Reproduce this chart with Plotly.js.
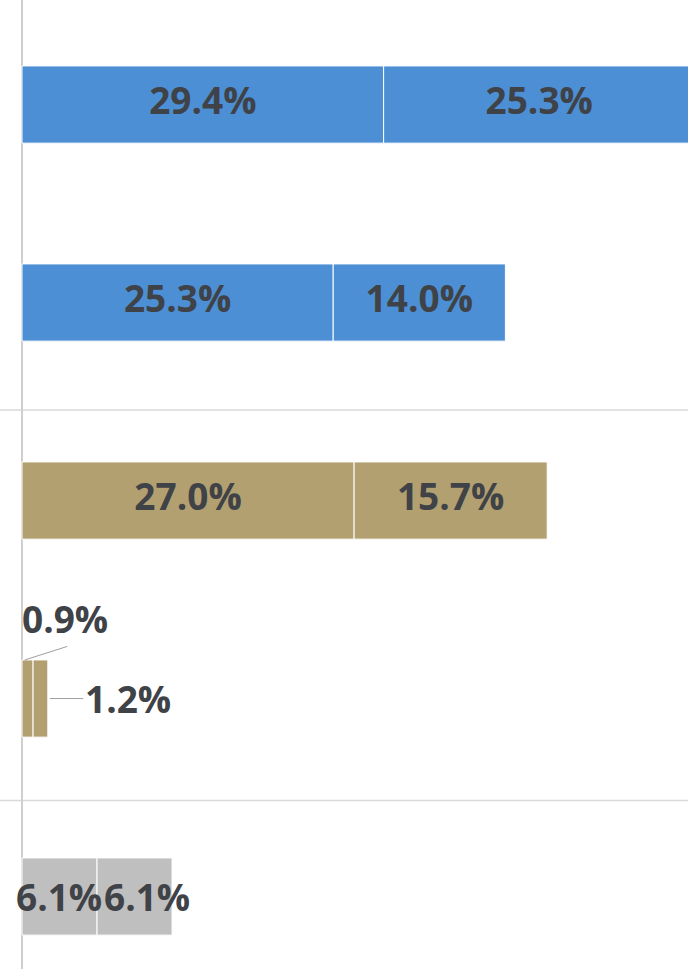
<!DOCTYPE html>
<html>
<head>
<meta charset="utf-8">
<script src="https://cdn.plot.ly/plotly-3.0.1.min.js"></script>
<style>html,body{margin:0;padding:0;background:#fff;}#chart{width:688px;height:969px;}</style>
</head>
<body>
<div id="chart"></div>
<script>
// Data
const rows = [0, 1, 2, 3, 4];
const seg1 = [29.4, 25.3, 27.0, 0.9, 6.1];
const seg2 = [25.3, 14.0, 15.7, 1.2, 6.1];
const rowColors = ['#4d8fd4', '#4d8fd4', '#b2a070', '#b2a070', '#bfbfbf'];
const fmt = v => v.toFixed(1) + '%';
const insideRows = [0, 1, 2];
const narrowRow = 4;
const calloutRow = 3;
const separators = [1.5, 3.5];

const textFont = {family: 'Open Sans, Liberation Sans, sans-serif', size: 37, color: '#3f4247', weight: 700};

const barCommon = {
  type: 'bar', orientation: 'h', y: rows, width: 0.39,
  textposition: 'none', hoverinfo: 'skip', showlegend: false,
  marker: {color: rowColors, line: {color: '#ffffff', width: 1}}
};

const trace1 = Object.assign({}, barCommon, {x: seg1});
const trace2 = Object.assign({}, barCommon, {x: seg2, base: seg1});

const lx = [], ly = [], lt = [];
insideRows.forEach(i => {
  lx.push(seg1[i] / 2); ly.push(i); lt.push(fmt(seg1[i]));
  lx.push(seg1[i] + seg2[i] / 2); ly.push(i); lt.push(fmt(seg2[i]));
});
const labels = {
  type: 'scatter', mode: 'text', x: lx, y: ly, text: lt,
  textfont: textFont, textposition: 'middle center',
  hoverinfo: 'skip', showlegend: false, cliponaxis: false
};

const annotations = [
  // narrow grey row: labels nudged apart so they do not collide
  {x: seg1[narrowRow] / 2, y: narrowRow, xref: 'x', yref: 'y', text: fmt(seg1[narrowRow]),
   showarrow: false, font: textFont, xshift: -1},
  {x: seg1[narrowRow] + seg2[narrowRow] / 2, y: narrowRow, xref: 'x', yref: 'y', text: fmt(seg2[narrowRow]),
   showarrow: false, font: textFont, xshift: 12},
  // leader line for the first small segment
  {x: seg1[calloutRow] / 4, y: calloutRow - 0.195, xref: 'x', yref: 'y',
   text: ' ', showarrow: true, arrowhead: 0, arrowwidth: 1,
   arrowcolor: '#a0a0a0', ax: 44, ay: -14, standoff: 0, font: {size: 1}},
  // its label
  {x: seg1[calloutRow] / 2, y: calloutRow - 0.195, xref: 'x', yref: 'y',
   text: fmt(seg1[calloutRow]), showarrow: true, arrowwidth: 0.01, arrowcolor: 'rgba(0,0,0,0)',
   ax: 37, ay: -41, font: textFont},
  // second small segment label with horizontal leader
  {x: seg1[calloutRow] + seg2[calloutRow], y: calloutRow, xref: 'x', yref: 'y',
   text: fmt(seg2[calloutRow]), showarrow: true, arrowhead: 0, arrowwidth: 1,
   arrowcolor: '#a0a0a0', ax: 80, ay: 0, font: textFont, standoff: 2}
];

const sepOffsets = [0.043, 0.015];
const shapes = separators.map((v, i) => ({
  type: 'line', xref: 'paper', x0: 0, x1: 1, yref: 'y', y0: v + sepOffsets[i], y1: v + sepOffsets[i],
  line: {color: '#d9d9d9', width: 1.5}, layer: 'below'
}));

const layout = {
  width: 688, height: 969,
  margin: {l: 0, r: 0, t: 0, b: 0, pad: 0},
  paper_bgcolor: '#ffffff', plot_bgcolor: '#ffffff',
  barmode: 'overlay',
  xaxis: {range: [-22 / 12.3, 666 / 12.3], showgrid: false, showticklabels: false,
          zeroline: true, zerolinecolor: '#cfcfcf', zerolinewidth: 1.5, ticks: ''},
  yaxis: {range: [4.366, -0.528], showgrid: false, showticklabels: false,
          zeroline: false, ticks: ''},
  shapes: shapes,
  annotations: annotations
};

Plotly.newPlot('chart', [trace1, trace2, labels], layout, {staticPlot: true, displayModeBar: false});
</script>
</body>
</html>
